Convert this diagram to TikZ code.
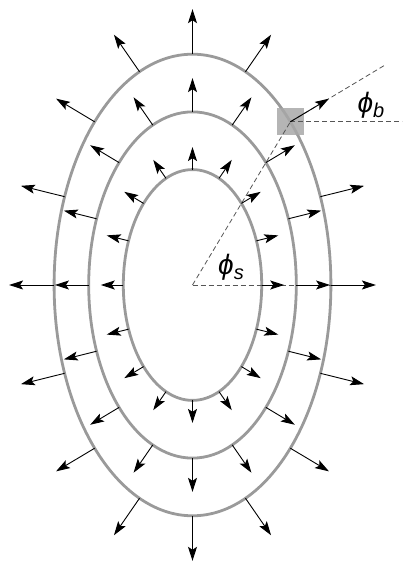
\documentclass[tikz,border=0pt]{standalone}
\usepackage{fontspec}
\setmainfont{Liberation Sans}
\usetikzlibrary{arrows.meta,calc}
\definecolor{ringgray}{HTML}{9A9A9A}
\definecolor{boxgray}{HTML}{A8A8A8}
\definecolor{dashgray}{HTML}{555555}
\tikzset{
  ring/.style={draw=ringgray,line width=2.8pt},
  vec/.style={draw=black,line width=0.9pt,-{Stealth[length=14pt,width=9pt,inset=3pt]}},
  guide/.style={draw=dashgray,line width=0.8pt,dash pattern=on 5pt off 3pt},
  marker/.style={fill=boxgray,fill opacity=0.85,draw=none,minimum size=27pt,inner sep=0pt},
  lbl/.style={font=\fontsize{28}{28}\selectfont\itshape,inner sep=0pt}
}
\newcommand{\philabel}[1]{ϕ\raisebox{-5pt}{\fontsize{20}{20}\selectfont #1}}
\begin{document}
\begin{tikzpicture}[x=1pt,y=1pt]
\useasboundingbox (0,0) rectangle (415,570);
\coordinate (c) at (192.5,285);
% rings
\foreach \k in {2,3,4}{
  \pgfmathsetmacro\A{34.6*\k}
  \pgfmathsetmacro\B{57.7*\k}
  \draw[ring] (c) ellipse [x radius=\A pt, y radius=\B pt];
}
% point on outer ring at t=45
\coordinate (P) at ($(c)+({138.4*cos(45)},{230.8*sin(45)})$);
\node[marker] (sq) at (P) {};
\coordinate (Pn) at ($(P)+(95.9,57.5)$);
\coordinate (Ph) at ($(P)+(112,0)$);
\coordinate (ch) at ($(c)+(138.4,0)$);
\draw[guide] (c) -- (ch);
\draw[guide] (c) -- (P);
\draw[guide] (P) -- (Pn);
\draw[guide] (P) -- (Ph);
% normal arrows
\foreach \k in {2,3,4}{
  \pgfmathsetmacro\A{34.6*\k}
  \pgfmathsetmacro\B{57.7*\k}
  \pgfmathsetmacro\L{11.25*\k}
  \foreach \i in {0,...,15}{
    \pgfmathsetmacro\t{22.5*\i}
    \pgfmathsetmacro\nx{cos(\t)}
    \pgfmathsetmacro\ny{0.5997*sin(\t)}
    \pgfmathsetmacro\nn{sqrt(\nx*\nx+\ny*\ny)}
    \coordinate (p\k-\i) at ($(c)+({\A*cos(\t)},{\B*sin(\t)})$);
    \coordinate (q\k-\i) at ($(p\k-\i)+({\L*\nx/\nn},{\L*\ny/\nn})$);
    \draw[vec] (p\k-\i) -- (q\k-\i);
  }
}
% labels
\node[lbl] (phis) at (231,303) {\philabel{s}};
\node[lbl] (phib) at (371,465) {\philabel{b}};
\end{tikzpicture}
\end{document}
